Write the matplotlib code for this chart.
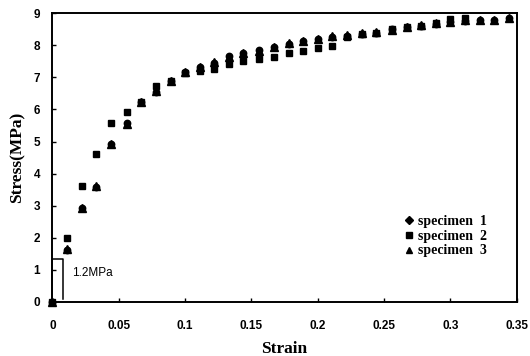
import matplotlib
matplotlib.use("Agg")
import matplotlib.pyplot as plt
from matplotlib.lines import Line2D

strain = [0.0, 0.011, 0.022, 0.033, 0.044, 0.056, 0.067, 0.078, 0.089, 0.100,
          0.111, 0.122, 0.133, 0.144, 0.156, 0.167, 0.178, 0.189, 0.200, 0.211,
          0.222, 0.233, 0.244, 0.256, 0.267, 0.278, 0.289, 0.300, 0.311, 0.322,
          0.333, 0.344]

stress_1 = [0.0, 1.61, 2.91, 3.59, 4.91, 5.57, 6.22, 6.55, 6.90, 7.16,
            7.33, 7.46, 7.66, 7.75, 7.86, 7.96, 8.04, 8.15, 8.19, 8.27,
            8.29, 8.36, 8.40, 8.51, 8.58, 8.61, 8.67, 8.72, 8.76, 8.79,
            8.79, 8.85]
stress_3 = [0.0, 1.63, 2.93, 3.61, 4.93, 5.55, 6.22, 6.57, 6.90, 7.18,
            7.31, 7.48, 7.64, 7.77, 7.84, 7.94, 8.06, 8.13, 8.21, 8.29,
            8.31, 8.38, 8.42, 8.49, 8.56, 8.63, 8.69, 8.74, 8.78, 8.80,
            8.80, 8.86]
stress_2 = [0.0, 1.98, 3.61, 4.60, 5.59, 5.91, 6.24, 6.74, 6.90, 7.14,
            7.21, 7.25, 7.41, 7.51, 7.57, 7.65, 7.75, 7.83, 7.91, 7.99,
            8.25, 8.34, 8.40, 8.50, 8.57, 8.61, 8.69, 8.82, 8.87]

labels = ["specimen  1", "specimen  2", "specimen  3"]
xticks = [0, 0.05, 0.1, 0.15, 0.2, 0.25, 0.3, 0.35]
xticklabels = ["0", "0.05", "0.1", "0.15", "0.2", "0.25", "0.3", "0.35"]
yticks = list(range(0, 10))

fig = plt.figure(figsize=(5.3, 3.56), dpi=100)
ax = fig.add_axes([0.099, 0.1525, 0.876, 0.81])

ax.plot(strain, stress_1, linestyle="none", marker="o", ms=4.6,
        color="black", zorder=3, clip_on=False)
ax.plot(strain, stress_3, linestyle="none", marker="^", ms=5.6,
        color="black", zorder=3, clip_on=False)
ax.plot(strain[:len(stress_2)], stress_2, linestyle="none", marker="s",
        ms=5.0, color="black", zorder=4, clip_on=False)

ax.set_xlim(0, 0.35)
ax.set_ylim(0, 9)
ax.set_xticks(xticks)
ax.set_xticklabels(xticklabels)
ax.set_yticks(yticks)
ax.tick_params(direction="in", length=3, width=1, top=False, right=False,
               labelsize=8.5)
ax.tick_params(axis="x", pad=13)
ax.tick_params(axis="y", pad=9)
for lab in ax.get_xticklabels() + ax.get_yticklabels():
    lab.set_family("Liberation Sans")
    lab.set_fontweight("bold")
for side in ["left", "bottom", "top", "right"]:
    ax.spines[side].set_linewidth(1.4)

ax.set_xlabel("Strain", family="Liberation Serif", fontweight="bold",
              fontsize=12.5, labelpad=7)
ax.set_ylabel("Stress(MPa)", family="Liberation Serif", fontweight="bold",
              fontsize=12.5, labelpad=6)

# 1.2 MPa bracket annotation
ax.plot([0, 0, 0.0081, 0.0081], [0, 1.32, 1.32, 0.1], color="black",
        linewidth=1.1, clip_on=False, zorder=2)
ax.text(0.0145, 0.89, "1.2MPa", family="Liberation Sans", fontsize=8.5,
        va="center", ha="left")

lh1 = Line2D([], [], linestyle="none", marker="D", ms=3.6, color="black")
lh2 = Line2D([], [], linestyle="none", marker="s", ms=4.0, color="black")
lh3 = Line2D([], [], linestyle="none", marker="^", ms=4.4, color="black")
ax.legend([lh1, lh2, lh3], labels, loc="lower right",
          bbox_to_anchor=(0.962, 0.11), frameon=False,
          prop={"family": "Liberation Serif", "weight": "bold", "size": 10},
          handlelength=0.5, handletextpad=0.4, labelspacing=0.12)

fig.savefig("out.png", dpi=100)
